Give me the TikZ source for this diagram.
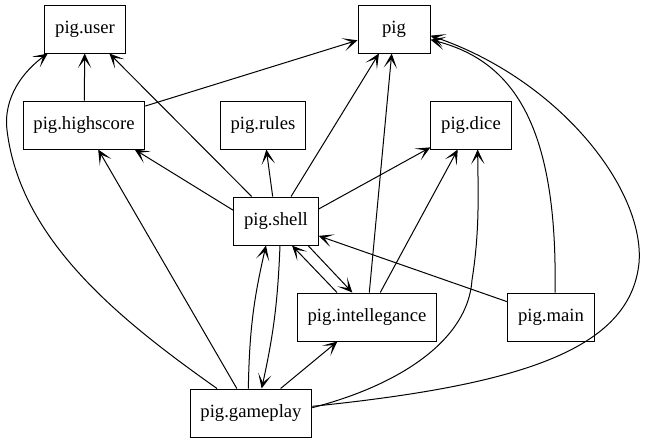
\documentclass[tikz,border=0pt]{standalone}
\usepackage{fontspec}
\setmainfont{Liberation Serif}
\usetikzlibrary{arrows.meta}

\tikzset{
  module/.style={draw, line width=0.75pt, minimum height=36pt, minimum width=54pt,
    inner xsep=7.7pt, font=\fontsize{14}{16}\selectfont},
  dep/.style={line width=0.75pt, -{Stealth[length=11pt,width=10pt,inset=6.5pt]}}
}

\begin{document}
\begin{tikzpicture}[x=0.75pt,y=-0.75pt]
    \useasboundingbox (0,0) rectangle (645,443);

    \node[module] (user) at (85,29) {pig.user};
    \node[module] (pig) at (394,29) {pig};
    \node[module] (highscore) at (84,125) {pig.highscore};
    \node[module] (rules) at (263,125) {pig.rules};
    \node[module] (dice) at (471,125) {pig.dice};
    \node[module] (shell) at (276,221) {pig.shell};
    \node[module] (intel) at (367,317) {pig.intellegance};
    \node[module] (main) at (551,317) {pig.main};
    \node[module] (gameplay) at (251,413) {pig.gameplay};

    \draw [dep] (highscore) -- (user);
    \draw [dep] (highscore) -- (pig);

    \draw [dep] (shell) -- (user);
    \draw [dep] ([yshift=8pt]shell.west) -- ([xshift=38pt]highscore.south);
    \draw [dep] (shell) -- (rules);
    \draw [dep] (shell) -- (pig);
    \draw [dep] ([yshift=9pt]shell.east) -- (dice);
    \draw [dep] ([xshift=24pt]shell.south) -- ([xshift=-11pt]intel.north);

    \draw [dep] ([xshift=-22.5pt]intel.north) -- ([xshift=12pt]shell.south);
    \draw [dep] (intel) -- (pig);
    \draw [dep] (intel) -- (dice);

    \draw [dep] (main) -- (shell);
    \draw [dep] ([xshift=3pt]main.north)
        .. controls (558,120) and (510,60) .. ([yshift=-8pt]pig.east);

    % gameplay
    \draw [dep] ([xshift=-25.5pt]gameplay.north)
        .. controls (120,320) and (20,240) .. (7,130)
        .. controls (3,96) and (25,70) .. ([xshift=2.5pt]user.south west);
    \draw [dep] (gameplay) -- (highscore);
    \draw [dep] ([xshift=-2pt]gameplay.north) to[bend left=6] ([xshift=-7.5pt]shell.south);
    \draw [dep] ([xshift=3pt]shell.south) to[bend left=5] ([xshift=8pt]gameplay.north);
    \draw [dep] (gameplay) -- (intel);
    \draw [dep] ([yshift=4pt]gameplay.east)
        .. controls (400,385) and (468,340) .. (472,280)
        .. controls (480,230) and (478,190) .. ([xshift=5pt]dice.south);
    \draw [dep] ([yshift=5pt]gameplay.east)
        .. controls (520,385) and (630,350) .. (639,263)
        .. controls (645,190) and (560,80) .. ([yshift=-5pt]pig.east);
\end{tikzpicture}
\end{document}
